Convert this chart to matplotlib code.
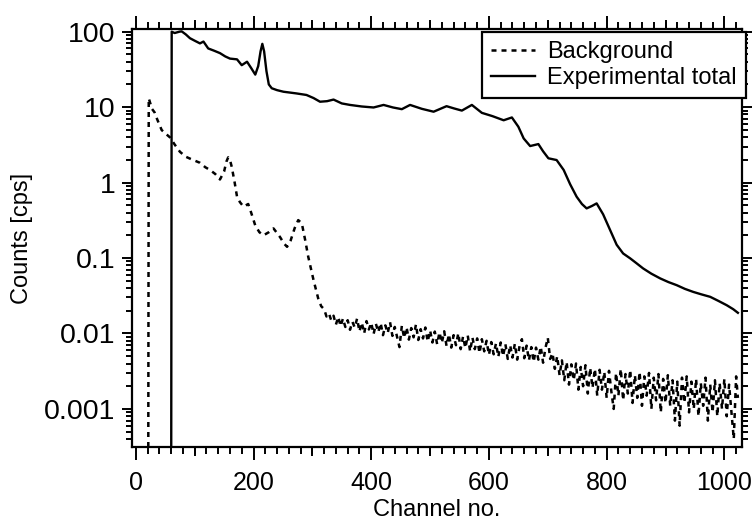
import matplotlib
matplotlib.use("Agg")
import matplotlib.pyplot as plt
from matplotlib.ticker import MultipleLocator, LogLocator, NullFormatter

plt.rcParams["font.family"] = ["Liberation Sans", "DejaVu Sans"]

# experimental total spectrum (channel, cps)
exp_channel = [60, 61, 66, 70, 74, 78, 85, 92, 100, 109, 115, 123, 133, 143, 152,
               160, 172, 180, 189, 196, 203, 208, 212, 215, 218, 222, 226, 231, 240,
               251, 262, 273, 290, 302, 313, 325, 336, 350, 364, 384, 404, 421, 437,
               452, 466, 486, 506, 528, 541, 554, 571, 588, 606, 625, 639, 650, 659,
               670, 684, 692, 701, 715, 727, 738, 749, 758, 766, 775, 783, 794, 806,
               817, 828, 840, 851, 862, 876, 891, 905, 919, 933, 947, 961, 976, 990,
               1004, 1015, 1023]
exp_counts = [1e-5, 100, 96, 98, 100, 101, 92, 82, 76, 70, 74, 60, 56, 52, 47,
              44, 43, 36, 40, 33, 27, 35, 55, 69, 55, 30, 20, 17.8, 16.8,
              16, 15.6, 15.2, 14.5, 13.2, 11.8, 12.0, 12.6, 11.2, 10.7, 10.2, 9.9, 10.7, 9.9,
              9.4, 10.7, 9.5, 8.7, 10.3, 9.6, 9.0, 10.7, 8.4, 7.6, 6.7, 7.3, 5.5, 3.85,
              3.05, 3.24, 2.6, 2.1, 1.99, 1.47, 0.95, 0.65, 0.52, 0.455, 0.49, 0.53, 0.38, 0.234,
              0.15, 0.115, 0.099, 0.085, 0.0728, 0.062, 0.0537, 0.048, 0.0437, 0.039, 0.0356,
              0.033, 0.0306, 0.027, 0.0237, 0.021, 0.0188]

# background spectrum: smooth head
bg_head_channel = [21, 22, 25, 27, 32, 36, 44, 50, 58, 66, 75, 85, 95, 109, 118, 126,
                   135, 143, 150, 154, 157, 160, 163, 168, 172, 177, 183, 191, 196, 203,
                   210, 217, 226, 234, 245, 252, 257, 263, 270, 276, 282, 288, 293, 302,
                   310, 315]
bg_head_counts = [1e-5, 13.1, 11, 9.6, 8.5, 7, 4.97, 4.5, 3.98, 3.2, 2.56, 2.2, 2.03, 1.83,
                  1.6, 1.47, 1.3, 1.10, 1.4, 1.9, 2.16, 2.0, 1.62, 1.0, 0.65, 0.55, 0.48,
                  0.52, 0.40, 0.27, 0.22, 0.20, 0.22, 0.247, 0.19, 0.155, 0.141, 0.17, 0.25,
                  0.318, 0.29, 0.17, 0.104, 0.051, 0.029, 0.023]

# background spectrum: noisy tail, every 4 channels from 320
bg_tail_channel = list(range(320, 1021, 4)) + [1023]
bg_tail_counts = [
    0.0210, 0.0168, 0.0185, 0.0150, 0.0172, 0.0131, 0.0166, 0.0125, 0.0158, 0.0122,
    0.0150, 0.0112, 0.0143, 0.0120, 0.0158, 0.0106, 0.0140, 0.0100, 0.0146, 0.0113,
    0.0139, 0.0098, 0.0134, 0.0104, 0.0138, 0.0095, 0.0128, 0.0101, 0.0141, 0.0093,
    0.0122, 0.0090, 0.0066, 0.0126, 0.0087, 0.0121, 0.0083, 0.0118, 0.0089, 0.0132,
    0.0082, 0.0114, 0.0086, 0.0120, 0.0078, 0.0110, 0.0076, 0.0106, 0.0072, 0.0104,
    0.0075, 0.0107, 0.0068, 0.0098, 0.0065, 0.0095, 0.0070, 0.0101, 0.0062, 0.0091,
    0.0064, 0.0094, 0.0058, 0.0088, 0.0062, 0.0086, 0.0055, 0.0084, 0.0058, 0.0080,
    0.0052, 0.0077, 0.0053, 0.0074, 0.0049, 0.0076, 0.0050, 0.0072, 0.0046, 0.0070,
    0.0048, 0.0073, 0.0045, 0.0068, 0.0084, 0.0047, 0.0069, 0.0044, 0.0066, 0.0042,
    0.0065, 0.0045, 0.0067, 0.0041, 0.0064, 0.0088, 0.0046, 0.0055, 0.0034, 0.0050,
    0.0028, 0.0044, 0.0024, 0.0042, 0.0021, 0.0039, 0.0024, 0.0040, 0.0018, 0.0036,
    0.0020, 0.0038, 0.0016, 0.0035, 0.0019, 0.0034, 0.0015, 0.0033, 0.0018, 0.0031,
    0.0014, 0.0032, 0.0017, 0.0010, 0.0030, 0.0015, 0.0034, 0.0013, 0.0029, 0.0016,
    0.0033, 0.0012, 0.0028, 0.0014, 0.0031, 0.0011, 0.0027, 0.0015, 0.0030, 0.0010,
    0.0026, 0.0013, 0.0029, 0.0009, 0.0025, 0.0012, 0.0028, 0.0011, 0.0024, 0.0007,
    0.0023, 0.0006, 0.0026, 0.0012, 0.0027, 0.0009, 0.0023, 0.0010, 0.0025, 0.0008,
    0.0022, 0.0011, 0.0026, 0.0007, 0.0021, 0.0009, 0.0024, 0.0008, 0.0022, 0.0010,
    0.0025, 0.0008, 0.0021, 0.0009, 0.0004, 0.0027,
    0.0014,
]

bg_channel = bg_head_channel + bg_tail_channel
bg_counts = bg_head_counts + bg_tail_counts

fig = plt.figure(figsize=(7.55, 5.26), dpi=100)
ax = fig.add_axes([0.1744, 0.1508, 0.8084, 0.7935])

ax.plot(bg_channel, bg_counts, color="black", lw=1.8, ls=(0, (2.0, 2.0)),
        label="Background")
ax.plot(exp_channel, exp_counts, color="black", lw=1.7, label="Experimental total")

ax.set_yscale("log")
ax.set_xlim(-7, 1030)
ax.set_ylim(3.16e-4, 107.6)

ax.set_xticks(range(0, 1001, 200))
ax.xaxis.set_minor_locator(MultipleLocator(20))
ax.yaxis.set_minor_locator(LogLocator(base=10, subs=range(2, 10), numticks=20))
ax.yaxis.set_minor_formatter(NullFormatter())
ax.set_yticks([0.001, 0.01, 0.1, 1, 10, 100], ["0.001", "0.01", "0.1", "1", "10", "100"])

ax.tick_params(which="both", direction="out", top=True, right=True, width=1.4,
               color="black")
ax.tick_params(axis="x", which="major", length=9.5, pad=8, labelsize=18)
ax.tick_params(axis="x", which="minor", length=4.8)
ax.tick_params(axis="y", which="major", length=7.5, pad=4, labelsize=20.5)
ax.tick_params(axis="y", which="minor", length=4)

# medium ticks at the odd hundreds
for side in ["bottom", "top"]:
    mid = ax.secondary_xaxis(side)
    mid.set_xticks(range(100, 1001, 200))
    mid.tick_params(length=6.8, width=1.4, labelbottom=False, labeltop=False)
    mid.spines[side].set_visible(False)

for sp in ax.spines.values():
    sp.set_linewidth(1.6)

ax.set_xlabel("Channel no.", fontsize=17, labelpad=3)
ax.set_ylabel("Counts [cps]", fontsize=17, labelpad=8)

leg = ax.legend(loc="upper right", bbox_to_anchor=(1.0066, 0.9935), borderaxespad=0,
                fontsize=17, frameon=True, fancybox=False, framealpha=1,
                edgecolor="black", handlelength=1.85, handletextpad=0.5,
                borderpad=0.4, labelspacing=0.15)
leg.get_frame().set_linewidth(1.6)

fig.savefig("out.png", dpi=100)
